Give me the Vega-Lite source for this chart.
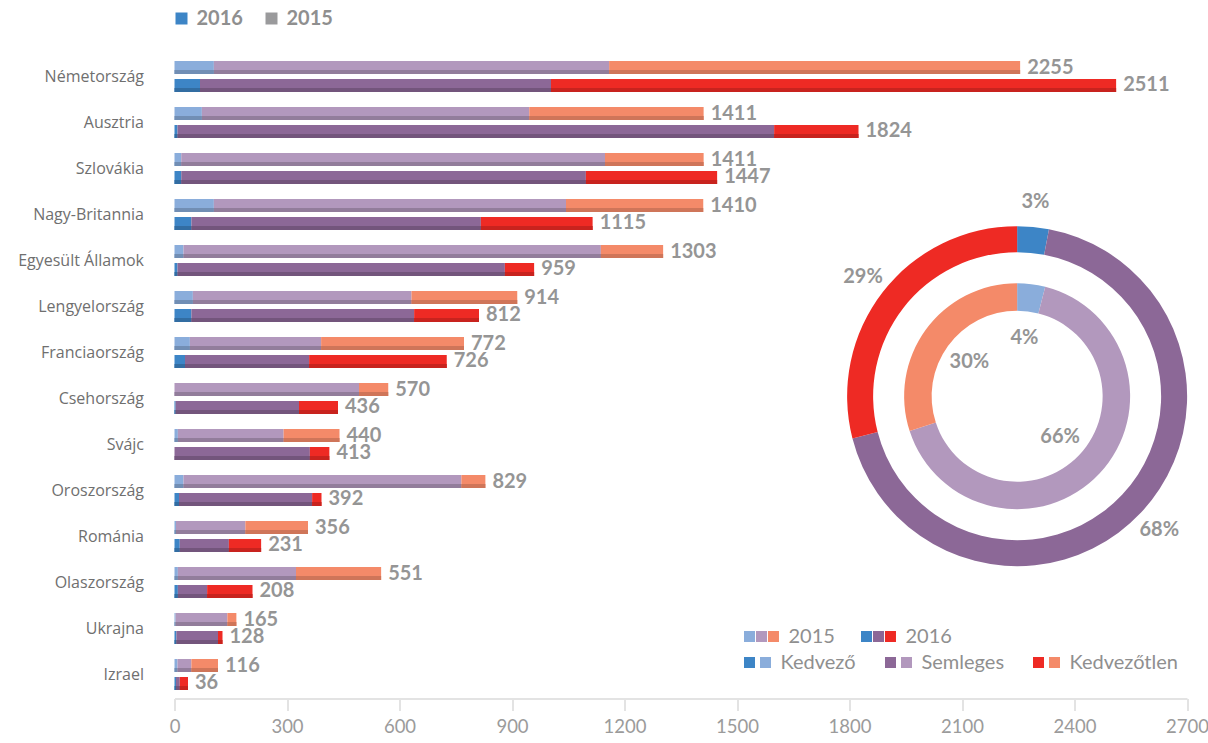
{
  "$schema": "https://vega.github.io/schema/vega-lite/v6.json",
  "width": 1012.5,
  "height": 644,
  "autosize": {"type": "none"},
  "padding": {"left": 174.5, "top": 53.5, "right": 21, "bottom": 45.5},
  "background": "white",
  "config": {"view": {"stroke": null}, "font": "Lato"},
  "datasets": {
    "b": [
      {"c":"Németország","yr":"2015","s":"2015 Kedvező","k":1,"v":105},
      {"c":"Németország","yr":"2015","s":"2015 Semleges","k":2,"v":1054},
      {"c":"Németország","yr":"2015","s":"2015 Kedvezőtlen","k":3,"v":1096},
      {"c":"Németország","yr":"2016","s":"2016 Kedvező","k":1,"v":68},
      {"c":"Németország","yr":"2016","s":"2016 Semleges","k":2,"v":936},
      {"c":"Németország","yr":"2016","s":"2016 Kedvezőtlen","k":3,"v":1507},
      {"c":"Ausztria","yr":"2015","s":"2015 Kedvező","k":1,"v":73},
      {"c":"Ausztria","yr":"2015","s":"2015 Semleges","k":2,"v":873},
      {"c":"Ausztria","yr":"2015","s":"2015 Kedvezőtlen","k":3,"v":465},
      {"c":"Ausztria","yr":"2016","s":"2016 Kedvező","k":1,"v":8},
      {"c":"Ausztria","yr":"2016","s":"2016 Semleges","k":2,"v":1591},
      {"c":"Ausztria","yr":"2016","s":"2016 Kedvezőtlen","k":3,"v":225},
      {"c":"Szlovákia","yr":"2015","s":"2015 Kedvező","k":1,"v":18},
      {"c":"Szlovákia","yr":"2015","s":"2015 Semleges","k":2,"v":1130},
      {"c":"Szlovákia","yr":"2015","s":"2015 Kedvezőtlen","k":3,"v":263},
      {"c":"Szlovákia","yr":"2016","s":"2016 Kedvező","k":1,"v":18},
      {"c":"Szlovákia","yr":"2016","s":"2016 Semleges","k":2,"v":1079},
      {"c":"Szlovákia","yr":"2016","s":"2016 Kedvezőtlen","k":3,"v":350},
      {"c":"Nagy-Britannia","yr":"2015","s":"2015 Kedvező","k":1,"v":105},
      {"c":"Nagy-Britannia","yr":"2015","s":"2015 Semleges","k":2,"v":939},
      {"c":"Nagy-Britannia","yr":"2015","s":"2015 Kedvezőtlen","k":3,"v":366},
      {"c":"Nagy-Britannia","yr":"2016","s":"2016 Kedvező","k":1,"v":45},
      {"c":"Nagy-Britannia","yr":"2016","s":"2016 Semleges","k":2,"v":772},
      {"c":"Nagy-Britannia","yr":"2016","s":"2016 Kedvezőtlen","k":3,"v":298},
      {"c":"Egyesült Államok","yr":"2015","s":"2015 Kedvező","k":1,"v":24},
      {"c":"Egyesült Államok","yr":"2015","s":"2015 Semleges","k":2,"v":1113},
      {"c":"Egyesült Államok","yr":"2015","s":"2015 Kedvezőtlen","k":3,"v":166},
      {"c":"Egyesült Államok","yr":"2016","s":"2016 Kedvező","k":1,"v":8},
      {"c":"Egyesült Államok","yr":"2016","s":"2016 Semleges","k":2,"v":873},
      {"c":"Egyesült Államok","yr":"2016","s":"2016 Kedvezőtlen","k":3,"v":78},
      {"c":"Lengyelország","yr":"2015","s":"2015 Kedvező","k":1,"v":49},
      {"c":"Lengyelország","yr":"2015","s":"2015 Semleges","k":2,"v":583},
      {"c":"Lengyelország","yr":"2015","s":"2015 Kedvezőtlen","k":3,"v":282},
      {"c":"Lengyelország","yr":"2016","s":"2016 Kedvező","k":1,"v":45},
      {"c":"Lengyelország","yr":"2016","s":"2016 Semleges","k":2,"v":594},
      {"c":"Lengyelország","yr":"2016","s":"2016 Kedvezőtlen","k":3,"v":173},
      {"c":"Franciaország","yr":"2015","s":"2015 Kedvező","k":1,"v":41},
      {"c":"Franciaország","yr":"2015","s":"2015 Semleges","k":2,"v":350},
      {"c":"Franciaország","yr":"2015","s":"2015 Kedvezőtlen","k":3,"v":381},
      {"c":"Franciaország","yr":"2016","s":"2016 Kedvező","k":1,"v":28},
      {"c":"Franciaország","yr":"2016","s":"2016 Semleges","k":2,"v":331},
      {"c":"Franciaország","yr":"2016","s":"2016 Kedvezőtlen","k":3,"v":367},
      {"c":"Csehország","yr":"2015","s":"2015 Kedvező","k":1,"v":0},
      {"c":"Csehország","yr":"2015","s":"2015 Semleges","k":2,"v":492},
      {"c":"Csehország","yr":"2015","s":"2015 Kedvezőtlen","k":3,"v":78},
      {"c":"Csehország","yr":"2016","s":"2016 Kedvező","k":1,"v":3},
      {"c":"Csehország","yr":"2016","s":"2016 Semleges","k":2,"v":329},
      {"c":"Csehország","yr":"2016","s":"2016 Kedvezőtlen","k":3,"v":104},
      {"c":"Svájc","yr":"2015","s":"2015 Kedvező","k":1,"v":9},
      {"c":"Svájc","yr":"2015","s":"2015 Semleges","k":2,"v":282},
      {"c":"Svájc","yr":"2015","s":"2015 Kedvezőtlen","k":3,"v":149},
      {"c":"Svájc","yr":"2016","s":"2016 Kedvező","k":1,"v":0},
      {"c":"Svájc","yr":"2016","s":"2016 Semleges","k":2,"v":361},
      {"c":"Svájc","yr":"2016","s":"2016 Kedvezőtlen","k":3,"v":52},
      {"c":"Oroszország","yr":"2015","s":"2015 Kedvező","k":1,"v":24},
      {"c":"Oroszország","yr":"2015","s":"2015 Semleges","k":2,"v":741},
      {"c":"Oroszország","yr":"2015","s":"2015 Kedvezőtlen","k":3,"v":64},
      {"c":"Oroszország","yr":"2016","s":"2016 Kedvező","k":1,"v":12},
      {"c":"Oroszország","yr":"2016","s":"2016 Semleges","k":2,"v":355},
      {"c":"Oroszország","yr":"2016","s":"2016 Kedvezőtlen","k":3,"v":25},
      {"c":"Románia","yr":"2015","s":"2015 Kedvező","k":1,"v":4},
      {"c":"Románia","yr":"2015","s":"2015 Semleges","k":2,"v":185},
      {"c":"Románia","yr":"2015","s":"2015 Kedvezőtlen","k":3,"v":167},
      {"c":"Románia","yr":"2016","s":"2016 Kedvező","k":1,"v":14},
      {"c":"Románia","yr":"2016","s":"2016 Semleges","k":2,"v":131},
      {"c":"Románia","yr":"2016","s":"2016 Kedvezőtlen","k":3,"v":86},
      {"c":"Olaszország","yr":"2015","s":"2015 Kedvező","k":1,"v":9},
      {"c":"Olaszország","yr":"2015","s":"2015 Semleges","k":2,"v":315},
      {"c":"Olaszország","yr":"2015","s":"2015 Kedvezőtlen","k":3,"v":227},
      {"c":"Olaszország","yr":"2016","s":"2016 Kedvező","k":1,"v":9},
      {"c":"Olaszország","yr":"2016","s":"2016 Semleges","k":2,"v":78},
      {"c":"Olaszország","yr":"2016","s":"2016 Kedvezőtlen","k":3,"v":121},
      {"c":"Ukrajna","yr":"2015","s":"2015 Kedvező","k":1,"v":3},
      {"c":"Ukrajna","yr":"2015","s":"2015 Semleges","k":2,"v":138},
      {"c":"Ukrajna","yr":"2015","s":"2015 Kedvezőtlen","k":3,"v":24},
      {"c":"Ukrajna","yr":"2016","s":"2016 Kedvező","k":1,"v":5},
      {"c":"Ukrajna","yr":"2016","s":"2016 Semleges","k":2,"v":111},
      {"c":"Ukrajna","yr":"2016","s":"2016 Kedvezőtlen","k":3,"v":12},
      {"c":"Izrael","yr":"2015","s":"2015 Kedvező","k":1,"v":8},
      {"c":"Izrael","yr":"2015","s":"2015 Semleges","k":2,"v":37},
      {"c":"Izrael","yr":"2015","s":"2015 Kedvezőtlen","k":3,"v":71},
      {"c":"Izrael","yr":"2016","s":"2016 Kedvező","k":1,"v":4},
      {"c":"Izrael","yr":"2016","s":"2016 Semleges","k":2,"v":10},
      {"c":"Izrael","yr":"2016","s":"2016 Kedvezőtlen","k":3,"v":22}
    ],
    "d": [
      {"yr":"2016","s":"2016 Kedvező","k":1,"p":0.03},
      {"yr":"2016","s":"2016 Semleges","k":2,"p":0.68},
      {"yr":"2016","s":"2016 Kedvezőtlen","k":3,"p":0.29},
      {"yr":"2015","s":"2015 Kedvező","k":1,"p":0.04},
      {"yr":"2015","s":"2015 Semleges","k":2,"p":0.66},
      {"yr":"2015","s":"2015 Kedvezőtlen","k":3,"p":0.30}
    ]
  },
  "resolve": {"scale": {"color": "independent", "yOffset": "independent"}, "legend": {"color": "independent"}},
  "layer": [
    {
      "data": {"name": "b"},
      "mark": {"type": "bar"},
      "encoding": {
        "y": {"field": "c", "type": "nominal", "title": null,
          "scale": {"domain": ["Németország","Ausztria","Szlovákia","Nagy-Britannia","Egyesült Államok","Lengyelország","Franciaország","Csehország","Svájc","Oroszország","Románia","Olaszország","Ukrajna","Izrael"], "paddingInner": 0, "paddingOuter": 0},
          "axis": {"domain": false, "ticks": false, "labelFont": "Open Sans", "labelFontSize": 16, "labelColor": "#6f6f6f", "labelPadding": 31}},
        "yOffset": {"field": "yr", "type": "nominal", "scale": {"type": "band", "domain": ["2015","2016"], "paddingInner": 0.278, "paddingOuter": 0.417}},
        "x": {"field": "v", "type": "quantitative", "stack": "zero", "title": null,
          "scale": {"domain": [0, 2700], "nice": false},
          "axis": {"values": [0,300,600,900,1200,1500,1800,2100,2400,2700], "format": "d", "grid": false, "domainColor": "#e3e3e3", "domainWidth": 2, "tickColor": "#e3e3e3", "tickWidth": 2, "tickSize": 12, "labelFont": "Lato", "labelFontSize": 18.5, "labelColor": "#9b9b9b", "labelPadding": 7, "offset": 1, "labelFlush": false, "labelOverlap": false}},
        "color": {"field": "s", "type": "nominal", "legend": null,
          "scale": {"domain": ["2015 Kedvező","2015 Semleges","2015 Kedvezőtlen","2016 Kedvező","2016 Semleges","2016 Kedvezőtlen"], "range": ["#8aaddb","#b298bd","#f48a69","#3d85c6","#8c6897","#ee2a24"]}},
        "order": {"field": "k", "type": "quantitative"}
      }
    },
    {
      "data": {"name": "b"},
      "mark": {"type": "bar"},
      "encoding": {
        "y": {"field": "c", "type": "nominal", "scale": {"domain": ["Németország","Ausztria","Szlovákia","Nagy-Britannia","Egyesült Államok","Lengyelország","Franciaország","Csehország","Svájc","Oroszország","Románia","Olaszország","Ukrajna","Izrael"]}},
        "yOffset": {"field": "yr", "type": "nominal", "scale": {"type": "band", "domain": ["2015","2016"], "paddingInner": 0.778, "paddingOuter": 0.667, "align": 0.6875}},
        "x": {"field": "v", "type": "quantitative", "stack": "zero"},
        "color": {"field": "s", "type": "nominal", "legend": null,
          "scale": {"domain": ["2015 Kedvező","2015 Semleges","2015 Kedvezőtlen","2016 Kedvező","2016 Semleges","2016 Kedvezőtlen"], "range": ["#718eb4","#927d9b","#cf7559","#326da2","#73557c","#c8231e"]}},
        "order": {"field": "k", "type": "quantitative"}
      }
    },
    {
      "data": {"name": "b"},
      "transform": [{"aggregate": [{"op": "sum", "field": "v", "as": "t"}], "groupby": ["c", "yr"]}],
      "mark": {"type": "text", "align": "left", "baseline": "middle", "dx": 7, "font": "Lato", "fontSize": 20, "fontWeight": "bold", "color": "#959595"},
      "encoding": {
        "y": {"field": "c", "type": "nominal", "scale": {"domain": ["Németország","Ausztria","Szlovákia","Nagy-Britannia","Egyesült Államok","Lengyelország","Franciaország","Csehország","Svájc","Oroszország","Románia","Olaszország","Ukrajna","Izrael"]}},
        "yOffset": {"field": "yr", "type": "nominal", "scale": {"type": "band", "domain": ["2015","2016"], "paddingInner": 0.278, "paddingOuter": 0.417}},
        "x": {"field": "t", "type": "quantitative"},
        "text": {"field": "t", "type": "quantitative", "format": "d"}
      }
    },
    {
      "data": {"name": "d"},
      "transform": [{"filter": "datum.yr == '2016'"}],
      "mark": {"type": "arc", "outerRadius": 170, "innerRadius": 144},
      "encoding": {
        "theta": {"field": "p", "type": "quantitative", "stack": true},
        "order": {"field": "k", "type": "quantitative"},
        "x": {"datum": 2247, "type": "quantitative"},
        "y": {"datum": "Csehország", "type": "nominal", "bandPosition": 0.45},
        "color": {"field": "s", "type": "nominal", "legend": null,
          "scale": {"domain": ["2015 Kedvező","2015 Semleges","2015 Kedvezőtlen","2016 Kedvező","2016 Semleges","2016 Kedvezőtlen"], "range": ["#8aaddb","#b298bd","#f48a69","#3d85c6","#8c6897","#ee2a24"]}}
      }
    },
    {
      "data": {"name": "d"},
      "transform": [{"filter": "datum.yr == '2015'"}],
      "mark": {"type": "arc", "outerRadius": 113, "innerRadius": 85.5},
      "encoding": {
        "theta": {"field": "p", "type": "quantitative", "stack": true},
        "order": {"field": "k", "type": "quantitative"},
        "x": {"datum": 2247, "type": "quantitative"},
        "y": {"datum": "Csehország", "type": "nominal", "bandPosition": 0.45},
        "color": {"field": "s", "type": "nominal", "legend": null,
          "scale": {"domain": ["2015 Kedvező","2015 Semleges","2015 Kedvezőtlen","2016 Kedvező","2016 Semleges","2016 Kedvezőtlen"], "range": ["#8aaddb","#b298bd","#f48a69","#3d85c6","#8c6897","#ee2a24"]}}
      }
    },
    {
      "data": {"name": "d"},
      "transform": [{"filter": "datum.yr == '2016'"}],
      "mark": {"type": "text", "radius": 195, "font": "Lato", "fontSize": 20, "fontWeight": "bold", "color": "#959595", "align": "center", "baseline": "middle"},
      "encoding": {
        "theta": {"field": "p", "type": "quantitative", "stack": true},
        "order": {"field": "k", "type": "quantitative"},
        "x": {"datum": 2247, "type": "quantitative"},
        "y": {"datum": "Csehország", "type": "nominal", "bandPosition": 0.45},
        "text": {"field": "p", "type": "quantitative", "format": ".0%"}
      }
    },
    {
      "data": {"name": "d"},
      "transform": [{"filter": "datum.yr == '2015'"}],
      "mark": {"type": "text", "radius": 59, "font": "Lato", "fontSize": 20, "fontWeight": "bold", "color": "#959595", "align": "center", "baseline": "middle"},
      "encoding": {
        "theta": {"field": "p", "type": "quantitative", "stack": true},
        "order": {"field": "k", "type": "quantitative"},
        "x": {"datum": 2247, "type": "quantitative"},
        "y": {"datum": "Csehország", "type": "nominal", "bandPosition": 0.45},
        "text": {"field": "p", "type": "quantitative", "format": ".0%"}
      }
    },
    {
      "data": {"values": [{"yr": "2016"}, {"yr": "2015"}]},
      "mark": {"type": "text", "text": ""},
      "encoding": {
        "color": {"field": "yr", "type": "nominal",
          "scale": {"domain": ["2016", "2015"], "range": ["#3d85c6", "#9a9a9c"]},
          "legend": {"title": null, "orient": "none", "direction": "horizontal", "legendX": -3, "legendY": -45, "symbolType": "square", "symbolSize": 144, "symbolStrokeWidth": 0, "symbolOpacity": 1, "labelFont": "Lato", "labelFontSize": 20, "labelFontWeight": "bold", "labelColor": "#8f8f8f", "labelOffset": 5, "columnPadding": 18}}
      }
    },
    {
      "data": {"values": [{"yr": "2015"}, {"yr": "2016"}]},
      "mark": {"type": "text", "text": ""},
      "encoding": {
        "color": {"field": "yr", "type": "nominal",
          "scale": {"domain": ["2015", "2016"], "range": ["#8aaddb", "#3d85c6"]},
          "legend": {"title": null, "orient": "none", "direction": "horizontal", "legendX": 565, "legendY": 573, "symbolType": "M-1,-1H1V1H-1Z", "symbolSize": 121, "symbolStrokeWidth": 0, "symbolOpacity": 1, "labelFont": "Lato", "labelFontSize": 20, "labelColor": "#8f8f8f", "labelOffset": 29, "columnPadding": 21}}
      }
    },
    {
      "data": {"values": [{"yr": "2015"}, {"yr": "2016"}]},
      "mark": {"type": "text", "text": ""},
      "encoding": {
        "color": {"field": "yr", "type": "nominal",
          "scale": {"domain": ["2015", "2016"], "range": ["#b298bd", "#8c6897"]},
          "legend": {"title": null, "orient": "none", "direction": "horizontal", "legendX": 565, "legendY": 573, "symbolType": "M-1,-1h0.01v0.01h-0.01Z M1.18,-1H3.18V1H1.18Z", "symbolSize": 121, "symbolStrokeWidth": 0, "symbolOpacity": 1, "labelFont": "Lato", "labelFontSize": 20, "labelColor": "#8f8f8f", "labelOpacity": 0, "labelOffset": 29, "columnPadding": 21}}
      }
    },
    {
      "data": {"values": [{"yr": "2015"}, {"yr": "2016"}]},
      "mark": {"type": "text", "text": ""},
      "encoding": {
        "color": {"field": "yr", "type": "nominal",
          "scale": {"domain": ["2015", "2016"], "range": ["#f48a69", "#ee2a24"]},
          "legend": {"title": null, "orient": "none", "direction": "horizontal", "legendX": 565, "legendY": 573, "symbolType": "M-1,-1h0.01v0.01h-0.01Z M3.36,-1H5.36V1H3.36Z", "symbolSize": 121, "symbolStrokeWidth": 0, "symbolOpacity": 1, "labelFont": "Lato", "labelFontSize": 20, "labelColor": "#8f8f8f", "labelOpacity": 0, "labelOffset": 29, "columnPadding": 21}}
      }
    },
    {
      "data": {"values": [{"cat": "Kedvező"}, {"cat": "Semleges"}, {"cat": "Kedvezőtlen"}]},
      "mark": {"type": "text", "text": ""},
      "encoding": {
        "color": {"field": "cat", "type": "nominal",
          "scale": {"domain": ["Kedvező", "Semleges", "Kedvezőtlen"], "range": ["#3d85c6", "#8c6897", "#ee2a24"]},
          "legend": {"title": null, "orient": "none", "direction": "horizontal", "legendX": 565, "legendY": 599, "symbolType": "M-1,-1H1V1H-1Z", "symbolSize": 121, "symbolStrokeWidth": 0, "symbolOpacity": 1, "labelFont": "Lato", "labelFontSize": 20, "labelColor": "#8f8f8f", "labelOffset": 21, "columnPadding": 24}}
      }
    },
    {
      "data": {"values": [{"cat": "Kedvező"}, {"cat": "Semleges"}, {"cat": "Kedvezőtlen"}]},
      "mark": {"type": "text", "text": ""},
      "encoding": {
        "color": {"field": "cat", "type": "nominal",
          "scale": {"domain": ["Kedvező", "Semleges", "Kedvezőtlen"], "range": ["#8aaddb", "#b298bd", "#f48a69"]},
          "legend": {"title": null, "orient": "none", "direction": "horizontal", "legendX": 565, "legendY": 599, "symbolType": "M-1,-1h0.01v0.01h-0.01Z M1.91,-1H3.91V1H1.91Z", "symbolSize": 121, "symbolStrokeWidth": 0, "symbolOpacity": 1, "labelFont": "Lato", "labelFontSize": 20, "labelColor": "#8f8f8f", "labelOpacity": 0, "labelOffset": 21, "columnPadding": 24}}
      }
    }
  ]
}
